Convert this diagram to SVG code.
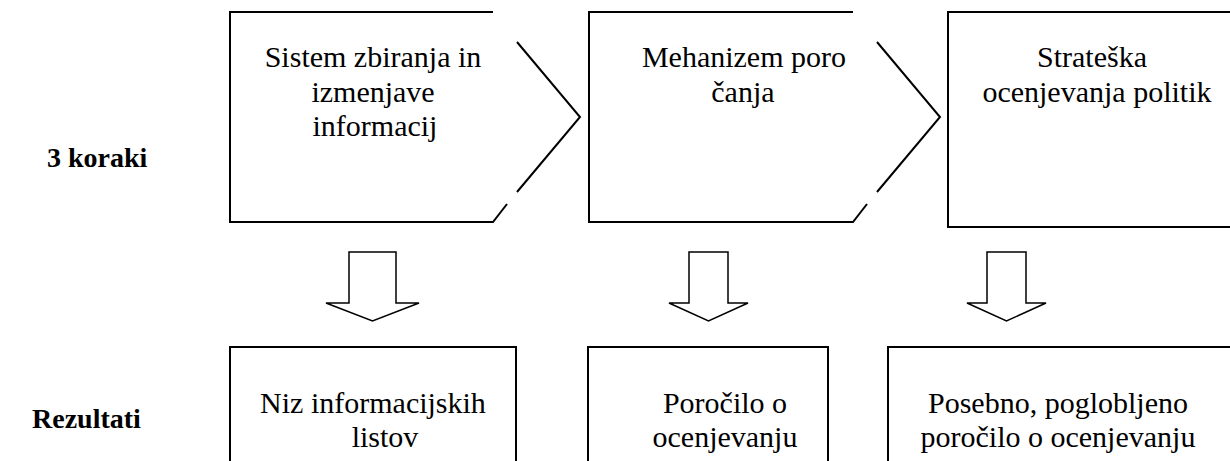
<svg xmlns="http://www.w3.org/2000/svg" width="1230" height="461" viewBox="0 0 1230 461">
<defs>
<path id="arrow" d="M-23.5,0 H23.5 V51 H46.5 L0,69 L-46.5,51 H-23.5 Z"/>
<path id="arrow-s" d="M-19.5,0 H19.5 V51 H39.5 L0,69 L-39.5,51 H-19.5 Z"/>
</defs>
<rect width="1230" height="461" fill="#fff"/>
<g id="label-koraki"><text x="47" y="167" font-family="Liberation Serif" font-size="28" font-weight="bold">3 koraki</text></g>
<g id="label-rezultati"><text x="32" y="428" font-family="Liberation Serif" font-size="28" font-weight="bold">Rezultati</text></g>
<g id="step1">
<path fill="none" stroke="#000" stroke-width="2" d="M493,12 H230 V222 H493 L507,204 M517,42 L580,117 L517,192"/>
<text x="264.7" y="67" font-family="Liberation Serif" font-size="30">Sistem zbiranja in</text>
<text x="311.4" y="101.5" font-family="Liberation Serif" font-size="30">izmenjave</text>
<text x="312.5" y="136" font-family="Liberation Serif" font-size="30">informacij</text>
</g>
<g id="step2">
<path fill="none" stroke="#000" stroke-width="2" d="M853,12 H589 V222 H853 L867,204 M877,42 L940,117 L877,192"/>
<text x="641.9" y="67" font-family="Liberation Serif" font-size="30">Mehanizem poro</text>
<text x="711.3" y="101.5" font-family="Liberation Serif" font-size="30">&#269;anja</text>
</g>
<g id="step3">
<path fill="none" stroke="#000" stroke-width="2" d="M1232,12 H948 V227 H1232"/>
<text x="1037" y="67" font-family="Liberation Serif" font-size="30">Strate&#353;ka</text>
<text x="982.4" y="101.5" font-family="Liberation Serif" font-size="30">ocenjevanja politik</text>
</g>
<g id="result1">
<path fill="none" stroke="#000" stroke-width="2" d="M230,463 V347 H516 V463"/>
<text x="260.1" y="413" font-family="Liberation Serif" font-size="30">Niz informacijskih</text>
<text x="351.7" y="447" font-family="Liberation Serif" font-size="30">listov</text>
</g>
<g id="result2">
<path fill="none" stroke="#000" stroke-width="2" d="M588,463 V347 H828 V463"/>
<text x="662.9" y="413" font-family="Liberation Serif" font-size="30">Poro&#269;ilo o</text>
<text x="652.5" y="447" font-family="Liberation Serif" font-size="30">ocenjevanju</text>
</g>
<g id="result3">
<path fill="none" stroke="#000" stroke-width="2" d="M888,463 V347 H1232"/>
<text x="928" y="413" font-family="Liberation Serif" font-size="30">Posebno, poglobljeno</text>
<text x="920.5" y="447" font-family="Liberation Serif" font-size="30">poro&#269;ilo o ocenjevanju</text>
</g>
<g id="connectors" fill="#fff" stroke="#000" stroke-width="1.5">
<use href="#arrow" x="372.5" y="252"/>
<use href="#arrow-s" x="708.5" y="252"/>
<use href="#arrow-s" x="1006.5" y="252"/>
</g>
</svg>
